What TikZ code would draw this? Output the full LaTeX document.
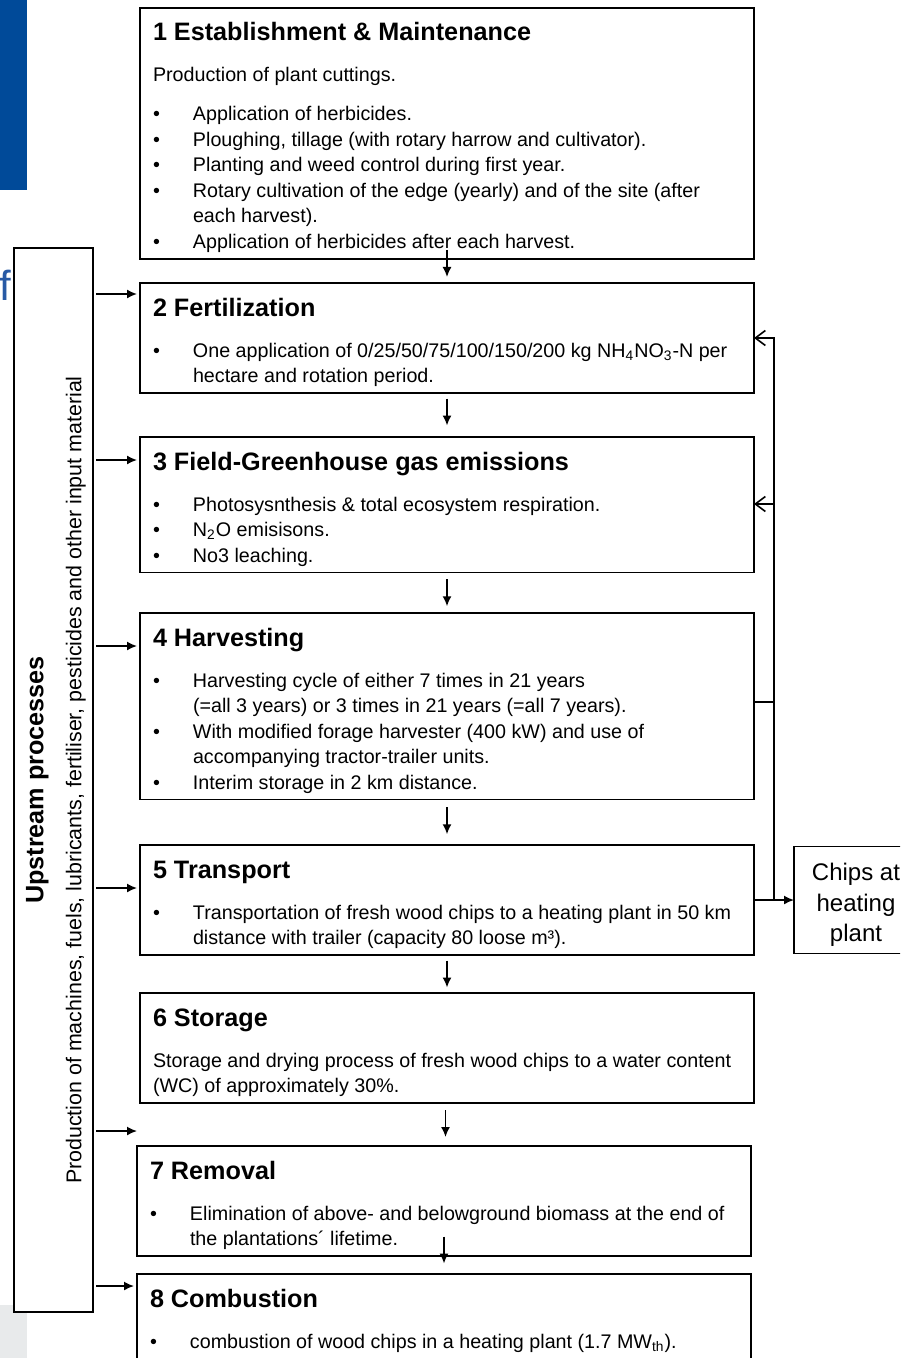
\documentclass[tikz,border=0pt]{standalone}
\usepackage{fontspec}
\setmainfont{Liberation Sans}
\usetikzlibrary{positioning,arrows.meta,calc}

\definecolor{slideblue}{RGB}{0,74,153}
\definecolor{slidetitle}{RGB}{40,90,165}
\definecolor{slidegrey}{RGB}{232,234,235}

\newcommand{\boxtitle}[1]{\makebox[294pt][l]{\rule{0pt}{14pt}{\fontsize{12.6}{14}\selectfont\bfseries #1}}}
\newcommand{\lastline}{\rule[-2.75pt]{0pt}{2.75pt}}
\newcommand{\bul}{\makebox[20pt][l]{\textbullet}}
\newcommand{\ind}{\hspace*{20pt}}

\begin{document}
\begin{tikzpicture}[x=0.5pt, y=-0.5pt,
    stage/.style={draw, line width=0.9pt, fill=white, outer sep=0pt, inner xsep=6.5pt, inner ysep=2.5pt, align=left, font=\fontsize{9.85}{12.75}\selectfont},
    upbox/.style={draw, line width=0.9pt, fill=white, outer sep=0pt, minimum width=39.5pt, minimum height=532pt, inner sep=0pt},
    outbox/.style={draw, line width=0.9pt, outer sep=0pt, minimum width=62pt, minimum height=53pt, align=center, font=\fontsize{12}{15.25}\selectfont},
    flow/.style={-{Latex[length=5pt,width=4.5pt]}, line width=0.8pt},
    supply/.style={flow, shorten <=1.5pt, shorten >=1.5pt},
    back/.style={-{Straight Barb[length=5pt,width=7.5pt]}, line width=0.8pt},
  ]
    \useasboundingbox (0,0) rectangle (900,1358);
    \clip (0,0) rectangle (900,1358);

    \fill[slideblue] (0,0) rectangle (27,190);
    \fill[slidegrey] (0,1305) rectangle (27,1358);
    \node[text=slidetitle, font=\fontsize{21}{24}\selectfont, anchor=base west, inner sep=0pt] (fragment) at (-1,300) {f};

    \node[upbox] (up) at (53.5,780) {};
    \node[rotate=90, align=center, font=\fontsize{10.7}{12.75}\selectfont] (uptext) at ([xshift=1.25pt]up.center)
      {{\fontsize{12.6}{14}\selectfont\bfseries Upstream processes}\\[6.25pt]Production of machines, fuels, lubricants, fertiliser, pesticides and other input material};

    \node[stage, anchor=north] (b1) at (447,8) {\boxtitle{1 Establishment \& Maintenance}\\[7.75pt]
      Production of plant cuttings.\\[6.75pt]
      \bul Application of herbicides.\\
      \bul Ploughing, tillage (with rotary harrow and cultivator).\\
      \bul Planting and weed control during first year.\\
      \bul Rotary cultivation of the edge (yearly) and of the site (after\\
      \ind each harvest).\\
      \bul Application of herbicides after each harvest.\lastline};
    \node[stage, below=12pt of b1] (b2) {\boxtitle{2 Fertilization}\\[7.75pt]
      \bul One application of 0/25/50/75/100/150/200 kg NH\textsubscript{4}NO\textsubscript{3}-N per\\
      \ind hectare and rotation period.\lastline};
    \node[stage, below=22pt of b2] (b3) {\boxtitle{3 Field-Greenhouse gas emissions}\\[7.75pt]
      \bul Photosysnthesis \& total ecosystem respiration.\\
      \bul N\textsubscript{2}O emisisons.\\
      \bul No3 leaching.\lastline};
    \node[stage, below=20.25pt of b3] (b4) {\boxtitle{4 Harvesting}\\[7.75pt]
      \bul Harvesting cycle of either 7 times in 21 years\\
      \ind (=all 3 years) or 3 times in 21 years (=all 7 years).\\
      \bul With modified forage harvester (400 kW) and use of\\
      \ind accompanying tractor-trailer units.\\
      \bul Interim storage in 2 km distance.\lastline};
    \node[stage, below=22.75pt of b4] (b5) {\boxtitle{5 Transport}\\[7.75pt]
      \bul Transportation of fresh wood chips to a heating plant in 50 km\\
      \ind distance with trailer (capacity 80 loose m³).\lastline};
    \node[stage, below=19pt of b5] (b6) {\boxtitle{6 Storage}\\[7.75pt]
      Storage and drying process of fresh wood chips to a water content\\
      (WC) of approximately 30\%.\lastline};
    \node[stage, below=21.5pt of b6, xshift=-1.5pt] (b7) {\boxtitle{7 Removal}\\[7.75pt]
      \bul Elimination of above- and belowground biomass at the end of\\
      \ind the plantations´ lifetime.\lastline};
    \node[stage, below=9pt of b7] (b8) {\boxtitle{8 Combustion}\\[7.75pt]
      \bul combustion of wood chips in a heating plant (1.7 MW\textsubscript{th}).\lastline};

    \node[outbox, right=20pt of b5] (chips) {\rule{0pt}{13.8pt}Chips at\\heating\\plant};

    \foreach \a/\b/\t/\u in {b1/b2/10.5pt/-3pt, b2/b3/8.25pt/-5.25pt, b3/b4/6.75pt/-6.75pt, b4/b5/7.5pt/-6pt,
                             b5/b6/6.75pt/-6.75pt, b6/b7/7.25pt/-6.25pt, b7/b8/14.25pt/0.75pt}
      \draw[flow] ($(\a.south)!0.5!(\b.north)+(0,\t)$) -- ($(\a.south)!0.5!(\b.north)+(0,\u)$);

    \coordinate (in2) at ([yshift=-5.5pt]b2.north west);
    \coordinate (in3) at ([yshift=-11.5pt]b3.north west);
    \coordinate (in4) at ([yshift=-16.5pt]b4.north west);
    \coordinate (in5) at ([yshift=-21.5pt]b5.north west);
    \coordinate (in7) at ([yshift=7.5pt,xshift=1.5pt]b7.north west);
    \coordinate (in8) at ([yshift=-6pt]b8.north west);
    \foreach \t in {in2,in3,in4,in5,in7,in8}
      \draw[supply] (up.east |- \t) -- (\t);

    \coordinate (fb) at ([xshift=10pt]b5.east);
    \coordinate (r2) at ([yshift=-27.5pt]b2.north east);
    \coordinate (r3) at ([yshift=-33.5pt]b3.north east);
    \coordinate (r4) at ([yshift=-44.5pt]b4.north east);
    \draw[back] (fb) |- (r2);
    \draw[back] (r3 -| fb) -- (r3);
    \draw[line width=0.8pt] (r4) -- (r4 -| fb);
    \draw[flow] (b5.east) -- (chips.west);
\end{tikzpicture}
\end{document}
